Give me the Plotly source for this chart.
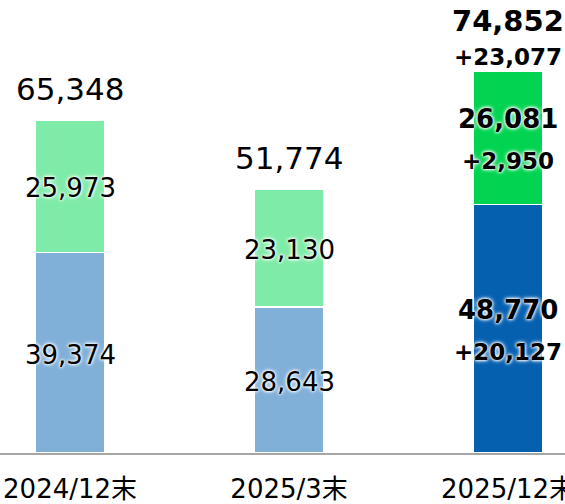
import plotly.graph_objects as go

categories = ["2024/12末", "2025/3末", "2025/12末"]
blue_values = [39374, 28643, 48770]
green_values = [25973, 23130, 26081]
totals = [65348, 51774, 74852]
blue_delta = ["", "", "+20,127"]
green_delta = ["", "", "+2,950"]
total_delta = ["", "", "+23,077"]

blue_colors = ["#80AFD8", "#80AFD8", "#0660B0"]
green_colors = ["#7FEBA8", "#7FEBA8", "#00D450"]

FONT = "DejaVu Sans, Verdana, Noto Sans CJK JP, sans-serif"
SHADOW = "0px 0px 3px white, 0px 0px 3px white, 0px 0px 5px white"

fig = go.Figure()
fig.add_trace(go.Bar(
    x=categories, y=blue_values, marker=dict(color=blue_colors, line=dict(color="white", width=1.5)),
    width=0.32, showlegend=False, hoverinfo="skip",
))
fig.add_trace(go.Bar(
    x=categories, y=green_values, marker=dict(color=green_colors, line=dict(color="white", width=1.5)),
    width=0.32, showlegend=False, hoverinfo="skip",
))

ann = []
for i, c in enumerate(categories):
    bold = i == 2
    b = blue_values[i]
    g = green_values[i]
    if not bold:
        ann.append(dict(x=c, y=b / 2, text=f"{b:,}", showarrow=False,
                        font=dict(size=26, color="black", family=FONT, shadow=SHADOW), yshift=-2))
        ann.append(dict(x=c, y=b + g / 2, text=f"{g:,}", showarrow=False,
                        font=dict(size=26, color="black", family=FONT, shadow=SHADOW), yshift=-2))
        ann.append(dict(x=c, y=totals[i], text=f"{totals[i]:,}", showarrow=False, yanchor="bottom",
                        font=dict(size=31, color="black", family=FONT), yshift=11))
    else:
        ann.append(dict(x=c, y=b / 2, text=f"<b>{b:,}</b>", showarrow=False,
                        font=dict(size=26, color="black", family=FONT, shadow=SHADOW), yshift=19))
        ann.append(dict(x=c, y=b / 2, text=f"<b>{blue_delta[i]}</b>", showarrow=False,
                        font=dict(size=23, color="black", family=FONT, shadow=SHADOW), yshift=-23))
        ann.append(dict(x=c, y=b + g / 2, text=f"<b>{g:,}</b>", showarrow=False,
                        font=dict(size=26, color="black", family=FONT, shadow=SHADOW), yshift=19))
        ann.append(dict(x=c, y=b + g / 2, text=f"<b>{green_delta[i]}</b>", showarrow=False,
                        font=dict(size=23, color="black", family=FONT, shadow=SHADOW), yshift=-23))
        ann.append(dict(x=c, y=totals[i], text=f"<b>{total_delta[i]}</b>", showarrow=False,
                        font=dict(size=23, color="black", family=FONT), yshift=15))
        ann.append(dict(x=c, y=totals[i], text=f"<b>{totals[i]:,}</b>", showarrow=False,
                        font=dict(size=29, color="black", family=FONT), yshift=51))

fig.update_layout(
    barmode="stack",
    width=565, height=504,
    margin=dict(l=0, r=0, t=0, b=51, autoexpand=False),
    plot_bgcolor="white", paper_bgcolor="white",
    annotations=ann,
    xaxis=dict(range=[-0.32, 2.26], showline=True, linecolor="#A6A6A6", linewidth=2,
               automargin=False,
               ticks="outside", ticklen=12, tickcolor="rgba(0,0,0,0)", showgrid=False,
               tickfont=dict(size=26, color="black", family=FONT)),
    yaxis=dict(range=[0, 88900], visible=False, showgrid=False, automargin=False),
)
fig.write_html("out.html", config={"displayModeBar": False},
               post_script="document.body.style.margin='0';")
